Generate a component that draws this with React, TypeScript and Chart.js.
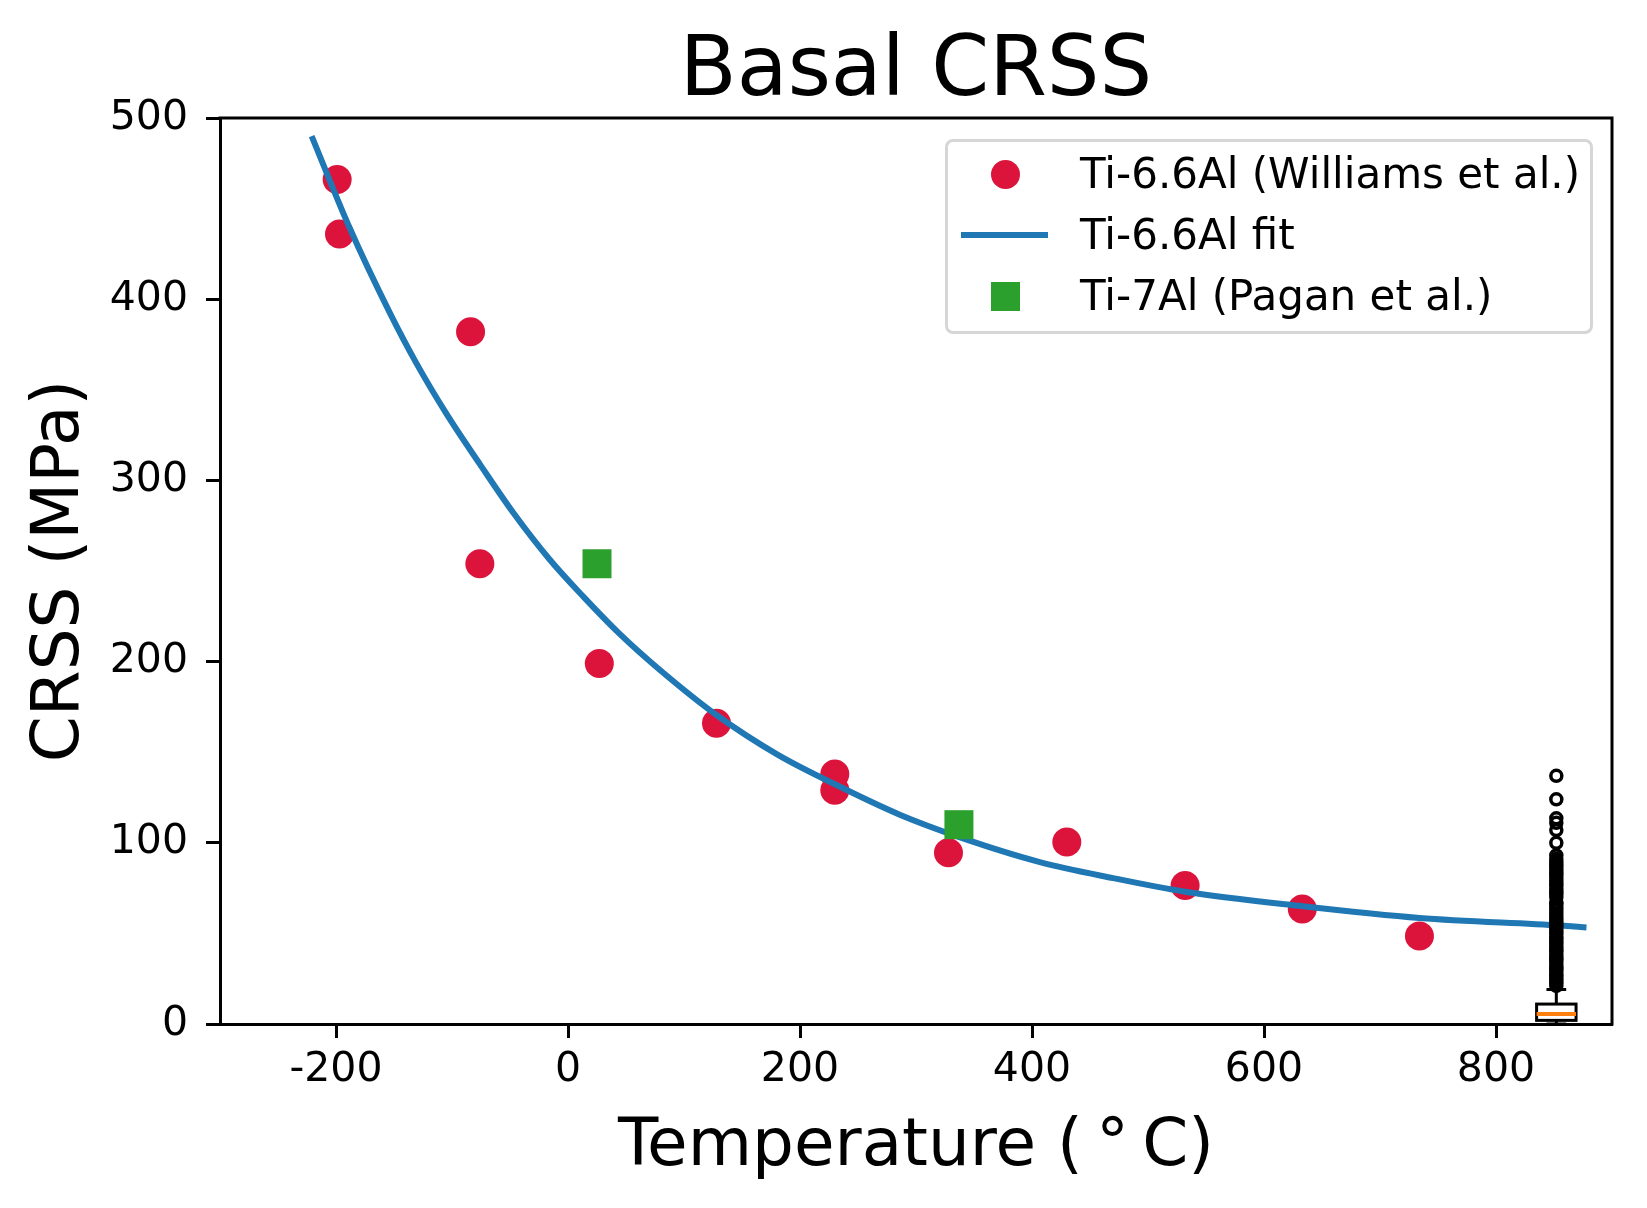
import { useEffect, useRef } from "react";
import { Chart, registerables } from "chart.js";

Chart.register(...registerables);

const W = 1647;
const H = 1208;

const seriesLabels = ["Ti-6.6Al (Williams et al.)", "Ti-6.6Al fit", "Ti-7Al (Pagan et al.)"];
const seriesColors = ["#dc143c", "#1f77b4", "#2ca02c"];

// Williams et al. data points
const williamsTemp = [-199, -197, -84, -76, 27, 128, 230, 230, 328, 430, 532, 633, 734];
const williamsCrss = [466, 436, 382, 254, 199, 166, 138, 129, 94.5, 100.5, 76.5, 63.5, 48.5];

// fit curve
const fitTemp = [-221, -188, -154, -131, -105, -76, -47, -16, 13, 45, 79, 128, 181, 231, 286, 338, 406, 470, 532, 633, 734, 856, 878];
const fitCrss = [490, 439, 393, 365, 337, 309, 282, 256.5, 236, 215, 195.5, 170.5, 148.5, 132, 115.5, 103, 89.5, 80.5, 73, 65, 58.5, 54.3, 53.3];

// Pagan et al.
const paganTemp = [25, 337];
const paganCrss = [254, 110];

// boxplot at the right edge
const boxPosition = 852;
const boxQuartiles = [2, 5.5, 11]; // q1, median, q3
const boxWhiskers = [0, 19];
const boxFliers = [
  21, 22.5, 23.5, 25, 26.5, 27.5, 29, 30.5, 31.5, 33, 34.5, 36, 37, 38.5, 40, 41, 42.5, 44, 45.5,
  47, 48, 49.5, 51, 52.5, 54, 55, 56.5, 58, 59.5, 61, 63, 64.5, 66, 67, 70, 71.5, 73, 74.5, 76,
  77.5, 79, 80.5, 82, 83.5, 85, 86.5, 88, 89.5, 91, 93, 100, 107, 111, 113.5, 124, 137,
];

const xTicks = [-200, 0, 200, 400, 600, 800];
const yTicks = [0, 100, 200, 300, 400, 500];

const FONT = "DejaVu Sans";
const BOX_WIDTH = 34;

const frameAndBox = {
  id: "frameAndBox",
  beforeDatasetsDraw(chart: any) {
    const { ctx, scales } = chart;
    const x = scales.x;
    const y = scales.y;
    const cx = x.getPixelForValue(boxPosition);
    const half = (x.getPixelForValue(boxPosition + BOX_WIDTH / 2) - x.getPixelForValue(boxPosition - BOX_WIDTH / 2)) / 2;
    const [q1, med, q3] = boxQuartiles.map((v) => y.getPixelForValue(v));
    const [wLo, wHi] = boxWhiskers.map((v) => y.getPixelForValue(v));
    ctx.save();
    ctx.strokeStyle = "#000";
    ctx.lineWidth = 3;
    ctx.beginPath();
    ctx.moveTo(cx, q3);
    ctx.lineTo(cx, wHi);
    ctx.moveTo(cx - half / 2, wHi);
    ctx.lineTo(cx + half / 2, wHi);
    ctx.moveTo(cx, q1);
    ctx.lineTo(cx, wLo);
    ctx.moveTo(cx - half / 2, wLo);
    ctx.lineTo(cx + half / 2, wLo);
    ctx.stroke();
    ctx.fillStyle = "#fff";
    ctx.fillRect(cx - half, q3, half * 2, q1 - q3);
    ctx.strokeRect(cx - half, q3, half * 2, q1 - q3);
    ctx.strokeStyle = "#ff7f0e";
    ctx.lineWidth = 4;
    ctx.beginPath();
    ctx.moveTo(cx - half, med);
    ctx.lineTo(cx + half, med);
    ctx.stroke();
    ctx.restore();
  },
  afterDraw(chart: any) {
    const { ctx, chartArea } = chart;
    ctx.save();
    ctx.strokeStyle = "#000";
    ctx.lineWidth = 3;
    ctx.beginPath();
    ctx.moveTo(chartArea.left - 1.5, chartArea.top);
    ctx.lineTo(chartArea.right, chartArea.top);
    ctx.lineTo(chartArea.right, chartArea.bottom + 1.5);
    ctx.stroke();
    ctx.restore();
  },
};

const App = () => {
  const canvasRef = useRef<HTMLCanvasElement>(null);

  useEffect(() => {
    if (!canvasRef.current) return;
    const ctx = canvasRef.current.getContext("2d");
    if (!ctx) return;

    Chart.defaults.font.family = FONT;
    Chart.defaults.color = "#000";

    const axisGrid = {
      display: true,
      drawOnChartArea: false,
      drawTicks: true,
      tickLength: 14,
      tickWidth: 3,
      tickColor: "#000",
    };
    const axisBorder = { display: true, color: "#000", width: 3 };

    const chart = new Chart(ctx, {
      type: "scatter",
      data: {
        datasets: [
          {
            label: seriesLabels[0],
            data: williamsTemp.map((t, i) => ({ x: t, y: williamsCrss[i] })),
            backgroundColor: seriesColors[0],
            borderWidth: 0,
            pointRadius: 14.5,
            order: 3,
          },
          {
            type: "line",
            label: seriesLabels[1],
            data: fitTemp.map((t, i) => ({ x: t, y: fitCrss[i] })),
            borderColor: seriesColors[1],
            borderWidth: 6,
            pointRadius: 0,
            cubicInterpolationMode: "monotone",
            fill: false,
            order: 2,
          },
          {
            label: seriesLabels[2],
            data: paganTemp.map((t, i) => ({ x: t, y: paganCrss[i] })),
            backgroundColor: seriesColors[2],
            borderWidth: 0,
            pointStyle: "rect",
            pointRadius: 20.5,
            order: 1,
          },
          {
            label: "fliers",
            data: boxFliers.map((v) => ({ x: boxPosition, y: v })),
            backgroundColor: "rgba(0,0,0,0)",
            borderColor: "#000",
            borderWidth: 3.5,
            pointRadius: 5.5,
            order: 0,
          },
        ],
      },
      plugins: [frameAndBox],
      options: {
        responsive: false,
        devicePixelRatio: 1,
        animation: false,
        events: [],
        layout: { padding: { left: 0, top: 0, right: W - 1612, bottom: 0 } },
        plugins: {
          legend: { display: false },
          tooltip: { enabled: false },
          title: {
            display: true,
            text: "Basal CRSS",
            fullSize: false,
            color: "#000",
            font: { size: 83, weight: "normal", lineHeight: 1 },
            padding: { top: 32, bottom: 3 },
          },
        },
        scales: {
          x: {
            type: "linear",
            min: -300,
            max: 900,
            afterFit: (s: any) => {
              s.height = H - 1024;
            },
            afterBuildTicks: (s: any) => {
              s.ticks = xTicks.map((v) => ({ value: v }));
            },
            ticks: { font: { size: 41 }, padding: 8, color: "#000", maxRotation: 0 },
            grid: axisGrid,
            border: axisBorder,
            title: {
              display: true,
              text: "Temperature (\u2009°\u2009C)",
              color: "#000",
              font: { size: 66, lineHeight: 1 },
              padding: { top: 0, bottom: 27 },
            },
          },
          y: {
            type: "linear",
            min: 0,
            max: 500,
            afterFit: (s: any) => {
              s.width = 220;
            },
            afterBuildTicks: (s: any) => {
              s.ticks = yTicks.map((v) => ({ value: v }));
            },
            ticks: { font: { size: 41 }, padding: 18, color: "#000" },
            grid: axisGrid,
            border: axisBorder,
            title: {
              display: true,
              text: "CRSS (MPa)",
              color: "#000",
              font: { size: 66, lineHeight: 1 },
              padding: { top: 28, bottom: 0 },
            },
          },
        },
      } as any,
    });

    return () => chart.destroy();
  }, []);

  const rowCenters = [174, 235, 296];

  return (
    <div style={{ position: "absolute", left: 0, top: 0, width: W, height: H, background: "#fff", overflow: "hidden" }}>
      <canvas ref={canvasRef} width={W} height={H} style={{ display: "block", width: W, height: H }}></canvas>
      <div
        style={{
          position: "absolute",
          left: 945,
          top: 139,
          width: 648,
          height: 195,
          boxSizing: "border-box",
          border: "3px solid #d6d6d6",
          borderRadius: 8,
          background: "rgba(255,255,255,0.8)",
        }}
      ></div>
      {seriesLabels.map((label, i) => (
        <div key={label}>
          {i === 0 && (
            <span
              style={{
                position: "absolute",
                left: 1005 - 14.5,
                top: rowCenters[i] - 14.5,
                width: 29,
                height: 29,
                borderRadius: "50%",
                background: seriesColors[i],
              }}
            ></span>
          )}
          {i === 1 && (
            <span
              style={{
                position: "absolute",
                left: 961,
                top: rowCenters[i] - 3,
                width: 87,
                height: 6,
                background: seriesColors[i],
              }}
            ></span>
          )}
          {i === 2 && (
            <span
              style={{
                position: "absolute",
                left: 1005 - 14.5,
                top: rowCenters[i] - 14.5,
                width: 29,
                height: 29,
                background: seriesColors[i],
              }}
            ></span>
          )}
          <span
            style={{
              position: "absolute",
              left: 1080,
              top: rowCenters[i] - 30,
              height: 60,
              lineHeight: "60px",
              fontFamily: FONT,
              fontSize: 42,
              color: "#000",
              whiteSpace: "nowrap",
            }}
          >
            {label}
          </span>
        </div>
      ))}
    </div>
  );
};

export default App;
